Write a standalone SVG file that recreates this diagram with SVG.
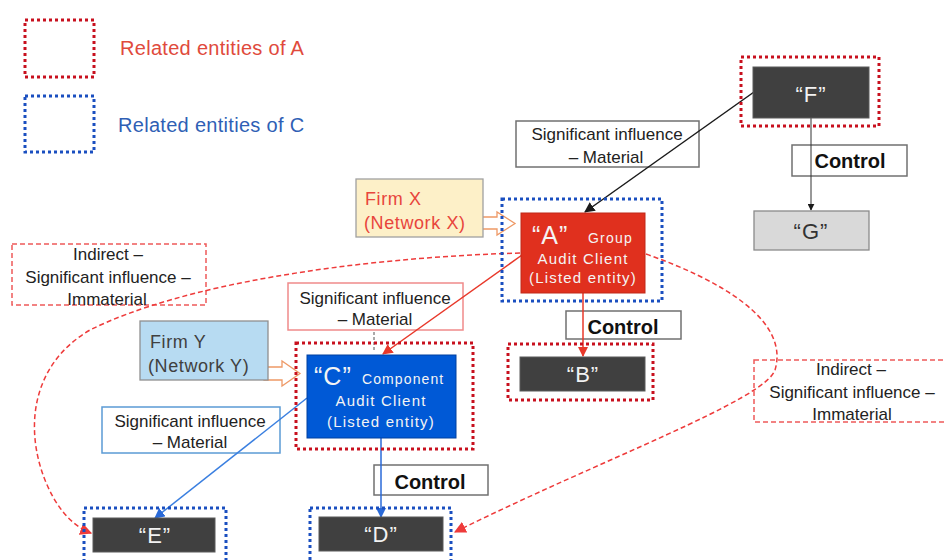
<svg xmlns="http://www.w3.org/2000/svg" width="944" height="560" viewBox="0 0 944 560">
<defs>
<style>
text{font-family:"Liberation Sans",Arial,sans-serif}
.dotR{fill:none;stroke:#c8101e;stroke-width:3;stroke-dasharray:3 3}
.dotB{fill:none;stroke:#1a4fc0;stroke-width:3;stroke-dasharray:3 3}
.dark{fill:#404040;stroke:#5a5a5a;stroke-width:1}
.nt{fill:#f2f2f2;font-size:22px;text-anchor:middle;letter-spacing:1px}
.lt{fill:#222;font-size:17px;text-anchor:middle}
.ctl{fill:#fff;stroke:#707070;stroke-width:1.5}
.ct{fill:#111;font-size:20px;font-weight:bold;text-anchor:middle}
.wt{fill:#f4f4f4;font-size:15px;letter-spacing:1.2px;text-anchor:middle}
.ind{fill:#fff;stroke:#ee5a5a;stroke-width:1.5;stroke-dasharray:5 3}
.curve{fill:none;stroke:#ee3b3b;stroke-width:1.5;stroke-dasharray:5 3}
.blk{fill:#fff;stroke:#ee9966;stroke-width:1.3}
</style>
<marker id="ak" viewBox="0 0 10 10" refX="9" refY="5" markerWidth="7" markerHeight="7" orient="auto"><path d="M0,0L10,5L0,10z" fill="#1a1a1a"/></marker>
<marker id="ar" viewBox="0 0 10 10" refX="9" refY="5" markerWidth="7" markerHeight="7" orient="auto"><path d="M0,0L10,5L0,10z" fill="#e8382a"/></marker>
<marker id="ab" viewBox="0 0 10 10" refX="9" refY="5" markerWidth="7" markerHeight="7" orient="auto"><path d="M0,0L10,5L0,10z" fill="#2a6ad8"/></marker>
<marker id="ad" viewBox="0 0 10 10" refX="9" refY="5" markerWidth="8" markerHeight="8" orient="auto"><path d="M0,0L10,5L0,10z" fill="#ee3b3b"/></marker>
</defs>
<rect width="944" height="560" fill="#fff"/>

<g id="legend">
<rect class="dotR" x="25" y="20" width="69" height="57" stroke="#d01f26"/>
<text x="120" y="55" font-size="20" fill="#e04a3c" letter-spacing="0.3">Related entities of A</text>
<rect class="dotB" x="25" y="96" width="69" height="56"/>
<text x="118" y="132" font-size="20" fill="#2f5fb5" letter-spacing="0.3">Related entities of C</text>
</g>

<g id="labels">
<g id="lbl-top"><rect x="516" y="121" width="183" height="46" fill="#fff" stroke="#707070" stroke-width="1.5"/>
<text class="lt" x="607" y="140">Significant influence</text><text class="lt" x="606" y="163">– Material</text></g>
<g id="lbl-mid"><rect x="288" y="283" width="175" height="47" fill="#fff" stroke="#f08a8a" stroke-width="1.5"/>
<text class="lt" x="375" y="304">Significant influence</text><text class="lt" x="375" y="325">– Material</text></g>
<g id="lbl-low"><rect x="102" y="407" width="178" height="46" fill="#fff" stroke="#5b9bd5" stroke-width="1.5"/>
<text class="lt" x="190" y="427">Significant influence</text><text class="lt" x="190" y="448">– Material</text></g>
<g id="ind-left"><rect class="ind" x="12" y="244" width="194" height="61"/>
<text class="lt" x="108" y="260">Indirect –</text><text class="lt" x="108" y="283">Significant influence –</text><text class="lt" x="107" y="305">Immaterial</text></g>
<g id="ind-right"><rect class="ind" x="754" y="360" width="200" height="62"/>
<text class="lt" x="851" y="375">Indirect –</text><text class="lt" x="852" y="398">Significant influence –</text><text class="lt" x="852" y="420">Immaterial</text></g>
<g id="ctl-F"><rect class="ctl" x="792" y="145" width="115" height="31"/><text class="ct" x="850" y="168">Control</text></g>
<g id="ctl-B"><rect class="ctl" x="566" y="311" width="115" height="28"/><text class="ct" x="623" y="334">Control</text></g>
<g id="ctl-D"><rect class="ctl" x="374" y="465" width="114" height="30"/><text class="ct" x="430" y="489">Control</text></g>
</g>

<g id="connectors">
<line x1="754" y1="92" x2="585" y2="212" stroke="#1a1a1a" stroke-width="1.5" marker-end="url(#ak)"/>
<line x1="811" y1="118" x2="811" y2="210" stroke="#333" stroke-width="1" marker-end="url(#ak)"/>
<line x1="583" y1="293" x2="583" y2="356" stroke="#e8382a" stroke-width="1.5" marker-end="url(#ar)"/>
<line x1="522" y1="255" x2="383" y2="354" stroke="#e8382a" stroke-width="1.5" marker-end="url(#ar)"/>
<line x1="307" y1="398" x2="155" y2="518" stroke="#3a7fe0" stroke-width="1.5" marker-end="url(#ab)"/>
<line x1="381" y1="438" x2="381" y2="517" stroke="#2a6ad8" stroke-width="1.5" marker-end="url(#ab)"/>
<line x1="374" y1="332" x2="374" y2="352" stroke="#555" stroke-width="1" stroke-dasharray="3 2"/>
<path class="curve" d="M520,253 C350,258 180,285 90,330 C30,365 25,430 45,480 C55,505 70,525 91,533" marker-end="url(#ad)"/>
<path class="curve" d="M646,254 C720,280 790,320 775,370 C765,400 600,460 455,532" marker-end="url(#ad)"/>
<path class="blk" d="M478,217 L497,217 L497,212 L515,223.5 L497,235 L497,229 L478,229 Z"/>
<path class="blk" d="M264,367 L282,367 L282,361 L300,373.5 L282,386 L282,380 L264,380 Z"/>
</g>

<g id="firmX"><rect x="356" y="179" width="127" height="58" fill="#fdf0c8" stroke="#a0a0a0" stroke-width="1.3"/>
<text x="365" y="205" font-size="18" fill="#e8453c" letter-spacing="0.6">Firm X</text>
<text x="364" y="229" font-size="18" fill="#e8453c" letter-spacing="0.6">(Network X)</text></g>

<g id="firmY"><rect x="140" y="321" width="128" height="59" fill="#b7dbf2" stroke="#909090" stroke-width="1.3"/>
<text x="150" y="348" font-size="18" fill="#404040" letter-spacing="0.6">Firm Y</text>
<text x="148" y="372" font-size="18" fill="#404040" letter-spacing="0.6">(Network Y)</text></g>

<g id="node-F"><rect class="dotR" x="741" y="57" width="138" height="69"/>
<rect class="dark" x="753" y="67" width="116" height="51"/><text class="nt" x="811" y="102">“F”</text></g>

<g id="node-G"><rect x="754" y="211" width="115" height="39" fill="#d9d9d9" stroke="#8a8a8a" stroke-width="1.3"/>
<text class="nt" x="811" y="239" style="fill:#333">“G”</text></g>

<g id="node-A"><rect class="dotB" x="502" y="199" width="160" height="102"/>
<rect x="521" y="213" width="124" height="80" fill="#e0301e" stroke="#c02818" stroke-width="1"/>
<text x="532" y="244" font-size="25" fill="#f4f4f4" letter-spacing="1">“A”</text>
<text x="588" y="243" font-size="14" fill="#f4f4f4" letter-spacing="1.2">Group</text>
<text class="wt" x="583" y="264">Audit Client</text>
<text class="wt" x="583" y="283">(Listed entity)</text></g>

<g id="node-B"><rect class="dotR" x="508" y="344" width="145" height="56"/>
<rect class="dark" x="520" y="357" width="125" height="34"/><text class="nt" x="583" y="382">“B”</text></g>

<g id="node-C"><rect class="dotR" x="296" y="343" width="177" height="106"/>
<rect x="307" y="355" width="149" height="83" fill="#0059d6" stroke="#0040a0" stroke-width="1"/>
<text x="314" y="385" font-size="25" fill="#f4f4f4" letter-spacing="1">“C”</text>
<text x="362" y="384" font-size="14" fill="#f4f4f4" letter-spacing="1.1">Component</text>
<text class="wt" x="381" y="406">Audit Client</text>
<text class="wt" x="381" y="427">(Listed entity)</text></g>

<g id="node-E"><rect class="dotB" x="84" y="508" width="142" height="56"/>
<rect class="dark" x="93" y="518" width="122" height="34"/><text class="nt" x="155" y="543">“E”</text></g>

<g id="node-D"><rect class="dotB" x="310" y="508" width="141" height="56"/>
<rect class="dark" x="319" y="517" width="124" height="34"/><text class="nt" x="381" y="542">“D”</text></g>
</svg>
